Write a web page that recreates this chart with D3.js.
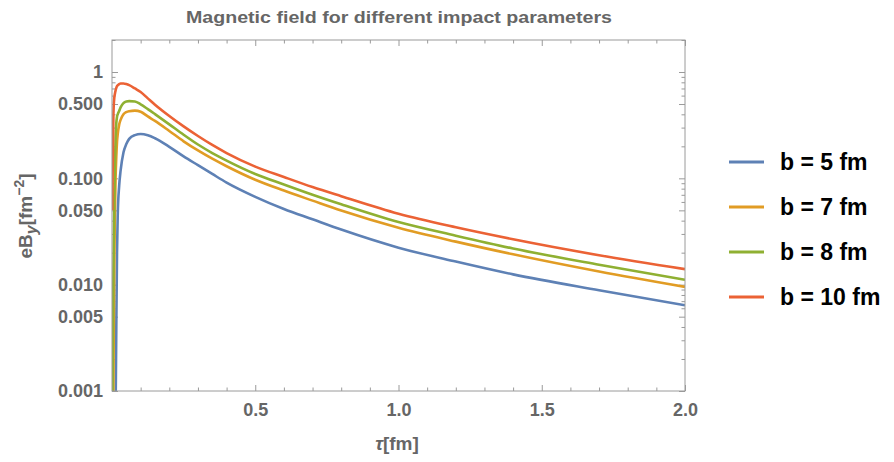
<!DOCTYPE html>
<html>
<head>
<meta charset="utf-8">
<script src="https://cdn.jsdelivr.net/npm/d3@7"></script>
<style>
  body { margin: 0; background: #fff; }
  svg text { font-family: "Liberation Sans", Arial, sans-serif; }
</style>
</head>
<body>
<svg id="chart" width="894" height="462"></svg>
<script>
// tau grid (fm)
var tau = [0.001, 0.002, 0.003, 0.004, 0.005, 0.006, 0.008, 0.01, 0.0125, 0.015, 0.0175, 0.02, 0.025, 0.03, 0.04, 0.05, 0.06, 0.08, 0.1, 0.125, 0.15, 0.2, 0.25, 0.3, 0.35, 0.4, 0.5, 0.6, 0.7, 0.8, 1.0, 1.2, 1.4, 1.7, 2.0];

// eB_y values for each impact parameter
var b5  = [0.00001, 0.00001, 0.00001, 0.00001, 0.00001, 0.00001, 0.00001, 0.0001, 0.0006, 0.004, 0.02, 0.045, 0.085, 0.118, 0.175, 0.21, 0.235, 0.255, 0.261, 0.254, 0.238, 0.198, 0.161, 0.133, 0.110, 0.0912, 0.067, 0.0515, 0.0412, 0.033, 0.0223, 0.0165, 0.0125, 0.00887, 0.00641];
var b7  = [0.00001, 0.0001, 0.0003, 0.0006, 0.0012, 0.003, 0.015, 0.045, 0.10, 0.16, 0.22, 0.26, 0.32, 0.355, 0.40, 0.42, 0.428, 0.433, 0.423, 0.382, 0.347, 0.279, 0.223, 0.183, 0.153, 0.130, 0.097, 0.0767, 0.0617, 0.0498, 0.0343, 0.0254, 0.0193, 0.0133, 0.00953];
var b8  = [0.0001, 0.001, 0.003, 0.007, 0.013, 0.022, 0.06, 0.12, 0.24, 0.33, 0.38, 0.40, 0.43, 0.465, 0.51, 0.528, 0.532, 0.528, 0.497, 0.448, 0.402, 0.322, 0.257, 0.208, 0.173, 0.147, 0.110, 0.0875, 0.0701, 0.057, 0.0388, 0.0289, 0.0219, 0.0154, 0.0111];
var b10 = [0.05, 0.10, 0.16, 0.27, 0.40, 0.48, 0.57, 0.62, 0.67, 0.71, 0.735, 0.75, 0.77, 0.78, 0.78, 0.77, 0.752, 0.70, 0.648, 0.565, 0.493, 0.386, 0.308, 0.250, 0.206, 0.173, 0.129, 0.103, 0.0828, 0.0679, 0.0464, 0.0346, 0.0267, 0.0189, 0.0140];

var seriesNames = ["b = 5 fm", "b = 7 fm", "b = 8 fm", "b = 10 fm"];
var seriesValues = [b5, b7, b8, b10];
var colors = ["#5e81b5", "#e19c24", "#8fb032", "#eb6235"];

var xTicks = [0.5, 1.0, 1.5, 2.0];
var xTickLabels = ["0.5", "1.0", "1.5", "2.0"];
var yTicks = [0.001, 0.005, 0.01, 0.05, 0.1, 0.5, 1];
var yTickLabels = ["0.001", "0.005", "0.010", "0.050", "0.100", "0.500", "1"];

var svg = d3.select("#chart");
var pLeft = 112, pRight = 685, pTop = 40, pBottom = 391;

var x = d3.scaleLinear().domain([0, 2]).range([pLeft, pRight]);
var y = d3.scaleLog().domain([0.001, 2]).range([pBottom, pTop]);

var frameColor = "#9a9a9a";
var labelColor = "#666";

// minor tick values (0.1 steps, skipping the labelled ones)
var xMinor = d3.range(1, 20).map(function(i) { return i / 10; }).filter(function(v) {
  return Math.abs(v * 2 - Math.round(v * 2)) > 1e-9;
});
var yMinor = [];
[0.001, 0.01, 0.1, 1].forEach(function(d) {
  for (var k = 2; k <= 9; k++) {
    var v = d * k;
    if (v <= 2 && k != 5) yMinor.push(v);
  }
});

function styleAxis(g) {
  g.select(".domain").remove();
  g.selectAll(".tick line").attr("stroke", frameColor).attr("stroke-width", 1);
  g.selectAll(".tick text").attr("fill", labelColor).attr("font-size", 18).attr("font-weight", "bold").attr("font-family", "Liberation Sans, Arial, sans-serif");
}

// bottom axis
svg.append("g").attr("transform", "translate(0," + pBottom + ")")
  .call(d3.axisBottom(x).tickValues(xTicks).tickFormat(function(d, i) { return xTickLabels[i]; }).tickSize(-6).tickPadding(12))
  .call(styleAxis);
svg.append("g").attr("transform", "translate(0," + pBottom + ")")
  .call(d3.axisBottom(x).tickValues(xMinor).tickFormat("").tickSize(-3.5))
  .call(styleAxis);
// top axis
svg.append("g").attr("transform", "translate(0," + pTop + ")")
  .call(d3.axisTop(x).tickValues(xTicks).tickFormat("").tickSize(-6))
  .call(styleAxis);
svg.append("g").attr("transform", "translate(0," + pTop + ")")
  .call(d3.axisTop(x).tickValues(xMinor).tickFormat("").tickSize(-3.5))
  .call(styleAxis);
// left axis
svg.append("g").attr("transform", "translate(" + pLeft + ",0)")
  .call(d3.axisLeft(y).tickValues(yTicks).tickFormat(function(d, i) { return yTickLabels[i]; }).tickSize(-6).tickPadding(9))
  .call(styleAxis);
svg.append("g").attr("transform", "translate(" + pLeft + ",0)")
  .call(d3.axisLeft(y).tickValues(yMinor).tickFormat("").tickSize(-3.5))
  .call(styleAxis);
// right axis
svg.append("g").attr("transform", "translate(" + pRight + ",0)")
  .call(d3.axisRight(y).tickValues(yTicks).tickFormat("").tickSize(-6))
  .call(styleAxis);
svg.append("g").attr("transform", "translate(" + pRight + ",0)")
  .call(d3.axisRight(y).tickValues(yMinor).tickFormat("").tickSize(-3.5))
  .call(styleAxis);

// clip for the curves
svg.append("clipPath").attr("id", "plotclip")
  .append("rect").attr("x", pLeft).attr("y", pTop).attr("width", pRight - pLeft).attr("height", pBottom - pTop);

var line = d3.line()
  .x(function(d) { return x(d[0]); })
  .y(function(d) { return y(d[1]); })
  .curve(d3.curveMonotoneX);

var plot = svg.append("g").attr("clip-path", "url(#plotclip)");
seriesValues.forEach(function(vals, i) {
  var pts = tau.map(function(t, j) { return [t, vals[j]]; });
  plot.append("path")
    .attr("d", line(pts))
    .attr("fill", "none")
    .attr("stroke", colors[i])
    .attr("stroke-width", 2.6)
    .attr("stroke-linejoin", "round");
});

// frame
svg.append("rect")
  .attr("x", pLeft).attr("y", pTop)
  .attr("width", pRight - pLeft).attr("height", pBottom - pTop)
  .attr("fill", "none").attr("stroke", frameColor).attr("stroke-width", 1);

// title
svg.append("text")
  .attr("x", 399).attr("y", 23)
  .attr("text-anchor", "middle")
  .attr("fill", labelColor)
  .attr("font-size", 17)
  .attr("font-weight", "bold")
  .attr("textLength", 426).attr("lengthAdjust", "spacingAndGlyphs")
  .text("Magnetic field for different impact parameters");

// x label
var xl = svg.append("text")
  .attr("x", 397).attr("y", 450)
  .attr("text-anchor", "middle")
  .attr("fill", labelColor)
  .attr("font-size", 19)
  .attr("font-weight", "bold");
xl.append("tspan").attr("font-style", "italic").text("τ");
xl.append("tspan").text("[fm]");

// y label
var yl = svg.append("text")
  .attr("transform", "translate(32,216) rotate(-90)")
  .attr("text-anchor", "middle")
  .attr("fill", labelColor)
  .attr("font-size", 19)
  .attr("font-weight", "bold");
yl.append("tspan").text("eB");
yl.append("tspan").attr("dy", 5).attr("font-size", 16).attr("font-style", "italic").text("y");
yl.append("tspan").attr("dy", -5).text("[fm");
yl.append("tspan").attr("dy", -8).attr("font-size", 14).text("−2");
yl.append("tspan").attr("dy", 8).text("]");

// legend
var legend = svg.append("g");
var legendY = [162, 207, 252, 297];
seriesNames.forEach(function(name, i) {
  legend.append("line")
    .attr("x1", 729).attr("x2", 764)
    .attr("y1", legendY[i]).attr("y2", legendY[i])
    .attr("stroke", colors[i]).attr("stroke-width", 3);
  legend.append("text")
    .attr("x", 780).attr("y", legendY[i] + 8)
    .attr("fill", "#000")
    .attr("font-size", 23)
    .attr("font-weight", "bold")
    .text(name);
});
</script>
</body>
</html>
